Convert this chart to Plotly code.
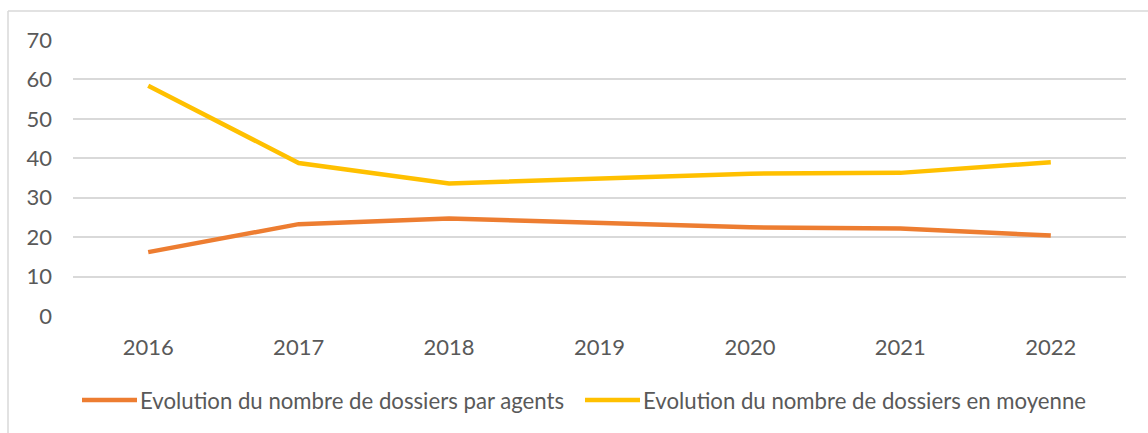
import plotly.graph_objects as go

years = ["2016", "2017", "2018", "2019", "2020", "2021", "2022"]
par_agents = [16.2, 23.3, 24.7, 23.5, 22.5, 22.2, 20.4]
en_moyenne = [58.4, 38.8, 33.6, 34.9, 36.1, 36.3, 39.0]
y_ticks = [0, 10, 20, 30, 40, 50, 60, 70]
names = ["Evolution du nombre de dossiers par agents",
         "Evolution du nombre de dossiers en moyenne"]
colors = ["#ED7D31", "#FFC000"]

W, H = 1148, 433
L, R, T, B = 73, 22, 40, 117
pw, ph = W - L - R, H - T - B


def px_x(p):
    return (p - L) / pw


def px_y(p):
    return (H - B - p) / ph


fig = go.Figure()
for vals, name, col in zip([par_agents, en_moyenne], names, colors):
    fig.add_trace(go.Scatter(x=years, y=vals, name=name, mode="lines",
                             line=dict(color=col, width=4.5), showlegend=False))

font = "Lato, 'Open Sans', sans-serif"
fig.update_layout(
    width=W, height=H,
    margin=dict(l=L, r=R, t=T, b=B),
    paper_bgcolor="white", plot_bgcolor="white",
    font=dict(family=font, size=22, color="#595959"),
    showlegend=False,
    xaxis=dict(type="category", range=[-0.5, 6.5], showgrid=False, showline=False,
               zeroline=False, ticks="", ticklabelstandoff=16, tickfont=dict(size=22)),
    yaxis=dict(range=[0, 70], tickvals=y_ticks, showgrid=True, gridcolor="#D9D9D9",
               gridwidth=1.5, zeroline=False, showline=False, ticks="",
               ticklabelstandoff=20, tickfont=dict(size=22)),
)

# legend (drawn manually to match original spacing)
legend_pos = [(82, 137, 139), (585, 640, 642)]
ly = px_y(400)
for (a, b, t), name, col in zip(legend_pos, names, colors):
    fig.add_shape(type="line", xref="paper", yref="paper", x0=px_x(a), x1=px_x(b),
                  y0=ly, y1=ly, line=dict(color=col, width=4.5))
    fig.add_annotation(xref="paper", yref="paper", x=px_x(t), y=ly, text=name,
                       showarrow=False, xanchor="left", yanchor="middle", borderpad=0,
                       font=dict(size=22.2, color="#595959"))

# outer frame (light border of the chart area)
x0 = px_x(8)
y1 = px_y(11)
fig.add_shape(type="line", xref="paper", yref="paper", x0=x0, x1=x0, y0=-2, y1=y1,
              line=dict(color="#D9D9D9", width=1.5))
fig.add_shape(type="line", xref="paper", yref="paper", x0=x0, x1=2, y0=y1, y1=y1,
              line=dict(color="#D9D9D9", width=1.5))

fig.write_html("out.html", config={"displayModeBar": False},
               post_script="document.body.style.margin='0';")
